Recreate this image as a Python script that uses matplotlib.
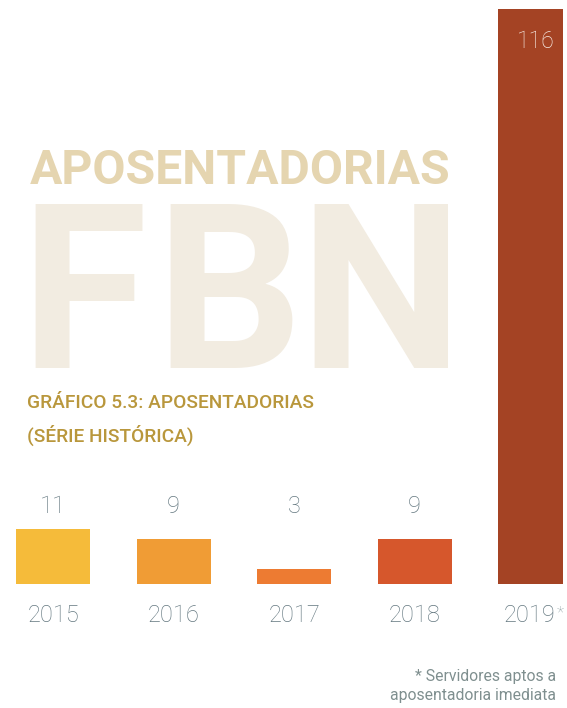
import matplotlib.pyplot as plt
from matplotlib.transforms import offset_copy

# dados
anos = ['2015', '2016', '2017', '2018', '2019']
valores = [11, 9, 3, 9, 116]
cores = ['#f5bb3a', '#f09c35', '#ed7b32', '#d6572c', '#a44324']

titulo_fundo = 'APOSENTADORIAS'
sigla = ['F', 'B', 'N']
titulo = ['GRÁFICO 5.3: APOSENTADORIAS', '(SÉRIE HISTÓRICA)']
nota = '* Servidores aptos a\naposentadoria imediata'

W, H = 567, 708
cinza = '#647880'
fonte = ['Roboto', 'DejaVu Sans']

fig = plt.figure(figsize=(W / 100, H / 100), dpi=100)

# textos de fundo (letras grandes com espaçamento)
for letra, xl in zip(sigla, [20, 155, 299]):
    fig.text(xl / W, 1 - 368 / H, letra, color='#f2ece1', fontsize=166,
             fontweight='bold', family=fonte, va='baseline', ha='left')
fig.text(30 / W, 1 - 183.5 / H, titulo_fundo, color='#e5d5b0', fontsize=34.7,
         fontweight='bold', family=fonte, va='baseline', ha='left')
for linha, yb in zip(titulo, [408, 442]):
    fig.text(27 / W, 1 - yb / H, linha, color='#b9973c', fontsize=13.8,
             fontweight='medium', family=fonte, va='baseline', ha='left')

# barras: base em y=584px, topo do eixo em y=9px, borda direita em 563px
ax = fig.add_axes([0, (H - 584) / H, 563 / W, 575 / H])
ax.patch.set_alpha(0)
x = list(range(len(anos)))
ax.bar(x, valores, width=0.614, color=cores)
ax.set_ylim(0, 116)
ax.set_xlim(-0.4395, 4.229)
ax.axis('off')

tx = ax.get_xaxis_transform()
for i, (ano, v) in enumerate(zip(anos, valores)):
    if i < 4:
        ax.text(i, (584 - 513) / 575, str(v), transform=tx,
                ha='center', va='baseline', fontsize=17, fontweight='light',
                family=fonte, color=cinza)
        ax.text(i, (584 - 622) / 575, ano, transform=tx,
                ha='center', va='baseline', fontsize=17, fontweight='light',
                family=fonte, color=cinza, clip_on=False)
    else:
        ax.text(i, (584 - 48) / 575, str(v), transform=tx,
                ha='center', va='baseline', fontsize=16.5, fontweight='light',
                family=fonte, color='#f7ece6')
        tr = offset_copy(tx, fig=fig, x=-4, y=0, units='points')
        t = ax.text(i, (584 - 622) / 575, ano, transform=tr,
                    ha='center', va='baseline', fontsize=17, fontweight='light',
                    family=fonte, color=cinza, clip_on=False)
        ax.annotate('*', xy=(1, 1), xycoords=t, xytext=(0.5, -1),
                    textcoords='offset points', ha='left', va='top',
                    fontsize=12, fontweight='light', color='#95a4a7',
                    family=fonte)

# nota de rodapé
fig.text(556 / W, 1 - 700 / H, nota, color='#7f8f8f', fontsize=11.3,
         fontweight='normal', family=fonte,
         ha='right', va='baseline', multialignment='right', linespacing=1.35)

fig.savefig('out.png', dpi=100)
